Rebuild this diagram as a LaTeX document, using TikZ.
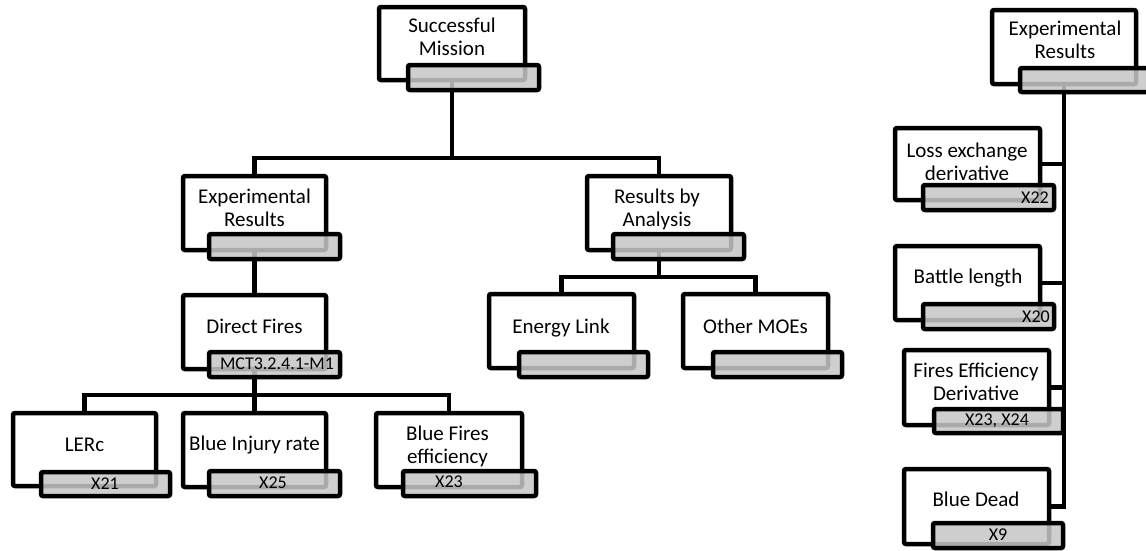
\documentclass[tikz,border=0pt]{standalone}
\usepackage{fontspec}
\setmainfont{Carlito}
\usetikzlibrary{backgrounds}
\pgfdeclarelayer{background}
\begin{document}
\begin{tikzpicture}[x=1pt,y=-1pt,
  box/.style={draw=black, line width=4.5pt, fill=white, rounded corners=2pt, inner sep=0pt},
  tag/.style={draw=black, line width=4.5pt, fill=black!22, fill opacity=0.86, rounded corners=2pt, inner sep=0pt},
  lbl/.style={font=\fontsize{21}{22.5}\selectfont, align=center, inner sep=0pt, anchor=base},
  tagtext/.style={font=\fontsize{18}{20}\selectfont, inner sep=0pt, anchor=base},
  link/.style={line width=4.5pt, draw=black}
]
\useasboundingbox (0,0) rectangle (1146,550);
\clip (0,0) rectangle (1146,550);

% panel{name}{x1}{y1}{x2}{y2}: box by its border corners
\newcommand\panel[6][box]{\node[#1, minimum width={#5-#3}, minimum height={#6-#4}] (#2) at ({(#3+#5)/2},{(#4+#6)/2}) {};}

% main boxes
\panel{sm}{379}{7}{525}{80}
\panel{erl}{183}{176}{326}{250}
\panel{rba}{587}{176}{731}{250}
\panel{df}{183}{295}{326}{369}
\panel{el}{489}{294}{634}{368}
\panel{om}{683}{294}{828}{368}
\panel{lerc}{13}{413}{156}{486}
\panel{bir}{183}{413}{326}{487}
\panel{bfe}{376}{413}{522}{487}
\panel{err}{992}{10}{1136}{84}
\panel{led}{895}{128}{1040}{200}
\panel{bl}{895}{246}{1040}{320}
\panel{fed}{904}{350}{1049}{425}
\panel{bd}{904}{469}{1049}{544}

% grey tags
\panel[tag]{smg}{408}{65}{539}{90}
\panel[tag]{erlg}{209}{234}{340}{259}
\panel[tag]{rbag}{613}{234}{744}{259}
\panel[tag]{dfg}{209}{352}{340}{377}
\panel[tag]{elg}{519}{352}{648}{377}
\panel[tag]{omg}{713}{352}{842}{377}
\panel[tag]{lercg}{41}{472}{170}{496}
\panel[tag]{birg}{209}{471}{340}{496}
\panel[tag]{bfeg}{403}{471}{536}{496}
\panel[tag]{errg}{1020}{68}{1150}{92}
\panel[tag]{ledg}{923}{185}{1054}{210}
\panel[tag]{blg}{923}{304}{1054}{329}
\panel[tag]{fedg}{934}{409}{1063}{433}
\panel[tag]{bdg}{933}{523}{1063}{548}

% connectors
\coordinate (busA) at (452,158);
\coordinate (busB) at (659,277);
\coordinate (busC) at (255,395);
\begin{pgfonlayer}{background}
  \draw[link] (sm.center) -- (busA);
  \draw[link] (erl.north) -- (erl.north |- busA) -- (rba.north |- busA) -- (rba.north);
  \draw[link] (rba.center) -- (busB);
  \draw[link] (el.north) -- (el.north |- busB) -- (om.north |- busB) -- (om.north);
  \draw[link] (erl.center) -- (df.north);
  \draw[link] (df.center) -- (bir.north);
  \draw[link] (lerc.north) -- (lerc.north |- busC) -- (bfe.north |- busC) -- (bfe.north);
  \draw[link] (err.center) |- (bd.east);
  \draw[link] (led.east) -- (led.east -| err.center);
  \draw[link] (bl.east) -- (bl.east -| err.center);
  \draw[link] (fed.east) -- (fed.east -| err.center);
\end{pgfonlayer}

% box texts
\node[lbl] (smt) at (452,55) {Successful\\Mission};
\node[lbl] (erlt) at (254.5,226) {Experimental\\Results};
\node[lbl] (rbat) at (657,226) {Results by\\Analysis};
\node[lbl] (dft) at (254.5,333) {Direct Fires};
\node[lbl] (elt) at (561,333) {Energy Link};
\node[lbl] (omt) at (755.5,333) {Other MOEs};
\node[lbl] (lerct) at (84.5,451) {LERc};
\node[lbl] (birt) at (254.5,450) {Blue Injury rate};
\node[lbl] (bfet) at (447.5,463) {Blue Fires\\efficiency};
\node[lbl] (errt) at (1065,58) {Experimental\\Results};
\node[lbl] (ledt) at (967,180) {Loss exchange\\derivative};
\node[lbl] (blt) at (968,283) {Battle length};
\node[lbl] (fedt) at (976,400) {Fires Efficiency\\Derivative};
\node[lbl] (bdt) at (976,506) {Blue Dead};

% tag texts
\node[tagtext] (dfgt) at (277,369) {MCT3.2.4.1-M1};
\node[tagtext] (lercgt) at (105,489) {X21};
\node[tagtext] (birgt) at (273,488) {X25};
\node[tagtext] (bfegt) at (449,487) {X23};
\node[tagtext, anchor=base east] (ledgt) at (1049,203) {X22};
\node[tagtext, anchor=base east] (blgt) at (1050,322) {X20};
\node[tagtext] (fedgt) at (997,425) {X23, X24};
\node[tagtext] (bdgt) at (998,540) {X9};
\end{tikzpicture}
\end{document}
